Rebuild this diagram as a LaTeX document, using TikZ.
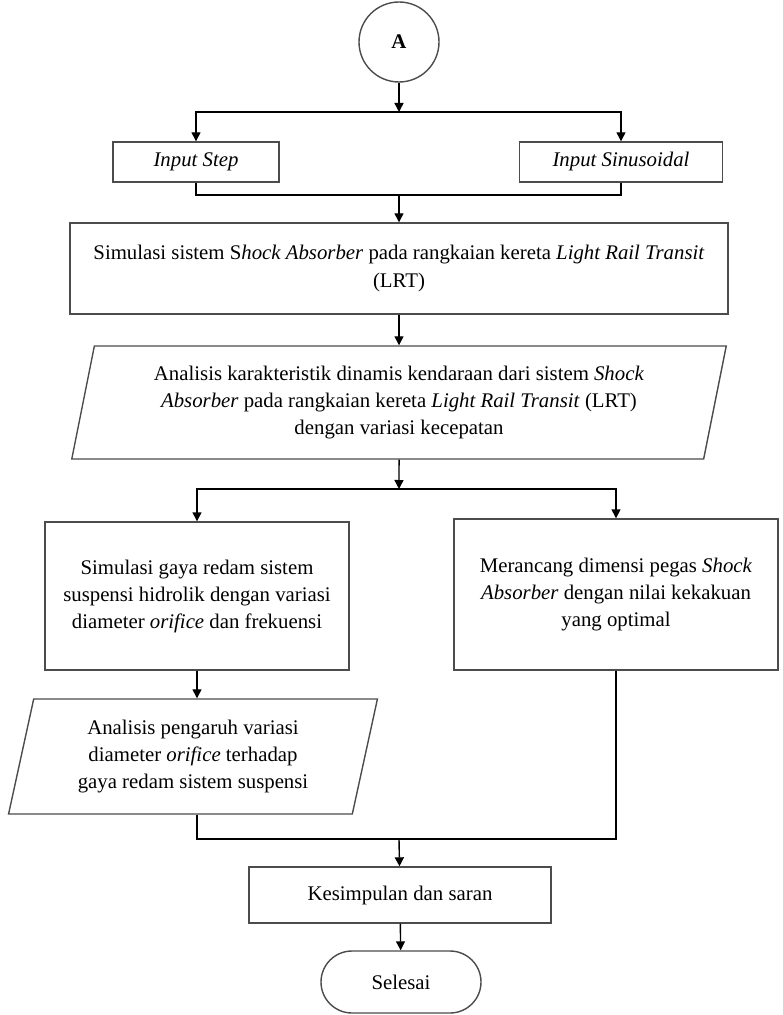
\documentclass[tikz,border=0pt]{standalone}
\usepackage{fontspec}
\setmainfont{Liberation Serif}
\usetikzlibrary{shapes.geometric,arrows.meta}
\begin{document}
\begin{tikzpicture}[x=0.5pt,y=-0.5pt,
  every node/.style={font=\fontsize{10.4pt}{13.5pt}\selectfont, align=center, inner sep=0pt},
  box/.style={draw=black!70, line width=0.7pt, rectangle},
  para/.style={draw=black!70, line width=0.7pt, trapezium, trapezium stretches=true,
    trapezium left angle=76, trapezium right angle=104},
  conn/.style={line width=0.7pt, draw=black},
  arr/.style={conn, -{Triangle[length=4.5pt,width=4.5pt]}},
]
\useasboundingbox (0,0) rectangle (782,1015);

\node[circle, draw=black!70, line width=0.7pt, minimum size=40pt,
  font=\fontsize{10.4pt}{13.5pt}\selectfont\bfseries] (A) at (399,42) {A};
\coordinate (j1) at (399,112);
\node[box, minimum width=83pt, minimum height=20pt] (in1) at (196,162) {\textit{Input Step}};
\node[box, minimum width=101.5pt, minimum height=20pt] (in2) at (621,162) {\textit{Input Sinusoidal}};
\coordinate (j2) at (399,195);
\node[box, minimum width=329pt, minimum height=45.5pt] (sim) at (399,268.5)
  {Simulasi sistem S\textit{hock Absorber} pada rangkaian kereta \textit{Light Rail Transit}\\(LRT)};
\node[para, minimum width=328.5pt, minimum height=56.5pt] (an) at (399,402.5)
  {Analisis karakteristik dinamis kendaraan dari sistem \textit{Shock}\\
   \textit{Absorber} pada rangkaian kereta \textit{Light Rail Transit} (LRT)\\
   dengan variasi kecepatan};
\coordinate (j3) at (399,489);
\node[box, minimum width=152pt, minimum height=74pt] (lb) at (197,596)
  {Simulasi gaya redam sistem\\suspensi hidrolik dengan variasi\\diameter \textit{orifice} dan frekuensi};
\node[box, minimum width=162pt, minimum height=75.5pt] (rb) at (616,594.5)
  {Merancang dimensi pegas \textit{Shock}\\\textit{Absorber} dengan nilai kekakuan\\yang optimal};
\node[para, minimum width=184.5pt, minimum height=57.5pt] (lp) at (193,756.5)
  {Analisis pengaruh variasi\\diameter \textit{orifice} terhadap\\gaya redam sistem suspensi};
\coordinate (j4) at (399,839);
\node[box, minimum width=151pt, minimum height=28pt] (kes) at (400,895) {Kesimpulan dan saran};
\node[draw=black!70, line width=0.7pt, rectangle, rounded corners=15.5pt,
  minimum width=80pt, minimum height=31pt] (sel) at (401,982) {Selesai};

\draw[arr] (A) -- (j1);
\draw[arr] (j1) -| (in1);
\draw[arr] (j1) -| (in2);
\draw[conn] (in1) |- (j2);
\draw[conn] (in2) |- (j2);
\draw[arr] (j2) -- (sim);
\draw[arr] (sim) -- (an);
\draw[arr] (an) -- (j3);
\draw[arr] (j3) -| (lb);
\draw[arr] (j3) -| (rb);
\draw[arr] (lb.south) -- (lb.south |- lp.north);
\draw[conn] (lb.south |- lp.south) |- (j4);
\draw[conn] (rb.south) |- (j4);
\draw[arr] (j4) -- (kes);
\draw[arr] (kes) -- (sel);
\end{tikzpicture}
\end{document}
